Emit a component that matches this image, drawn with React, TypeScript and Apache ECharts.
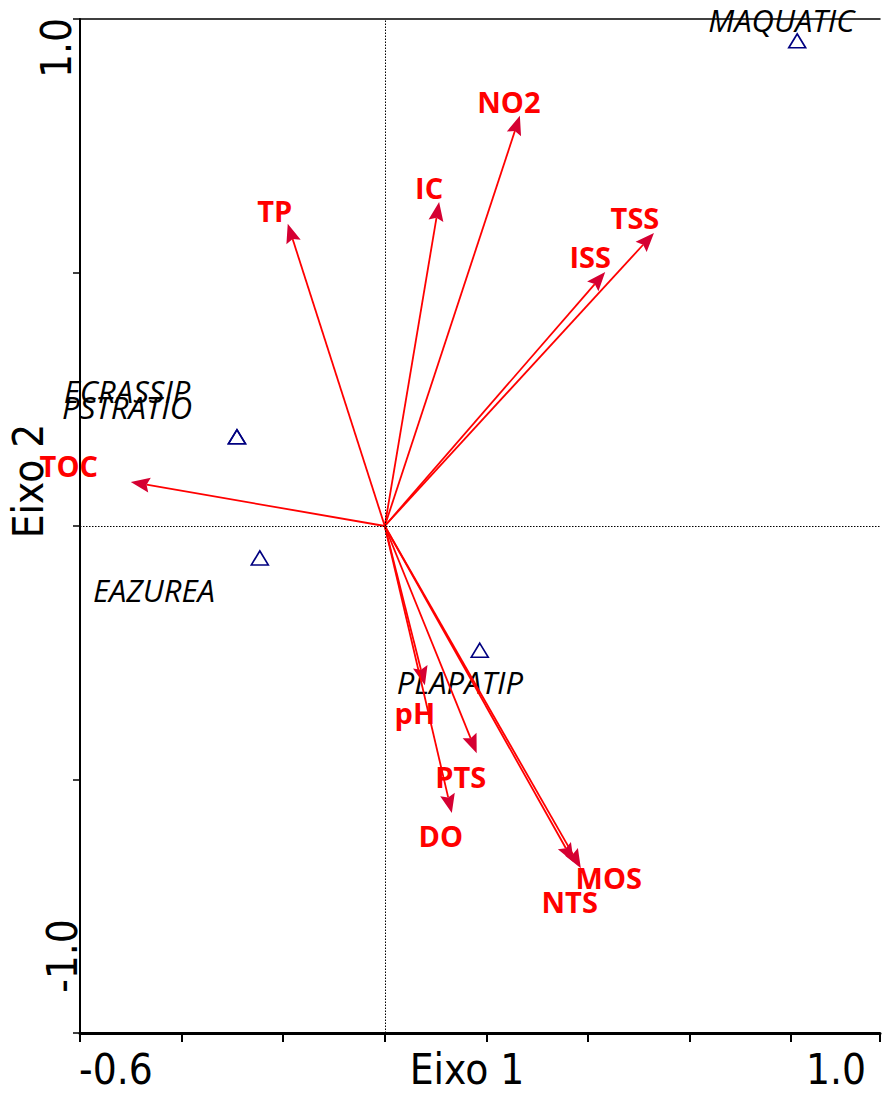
import React, { useEffect, useRef } from "react";
import * as echarts from "echarts";

// Environmental variables (biplot arrows)
const envNames = ["TOC", "TP", "IC", "NO2", "TSS", "ISS", "pH", "PTS", "DO", "MOS", "NTS"];
const envX = [-0.5, -0.191, 0.107, 0.266, 0.53, 0.434, 0.079, 0.181, 0.132, 0.386, 0.372];
const envY = [0.087, 0.596, 0.639, 0.809, 0.578, 0.501, -0.314, -0.448, -0.566, -0.675, -0.663];

// Species scores
const speciesNames = ["MAQUATIC", "ECRASSIP", "PSTRATIO", "EAZUREA", "PLAPATIP"];
const speciesX = [0.812, -0.291, -0.291, -0.246, 0.187];
const speciesY = [0.957, 0.176, 0.176, -0.063, -0.245];

// Axis ranges / labels
const xMin = -0.6;
const xMax = 0.975;
const xInterval = 0.2;
const yMin = -1.0;
const yMax = 1.0;
const yInterval = 0.5;
const xTickLabels = ["-0.6", "1.0"];
const yTickLabels = ["1.0", "-1.0"];
const xAxisTitle = "Eixo 1";
const yAxisTitle = "Eixo 2";

// Label layout (pixel offsets from the mark)
const envLabelOffsets: Record<string, [number, number]> = {
  TOC: [-62, -16],
  TP: [-13, -13],
  IC: [-10, -15],
  NO2: [-11, -14],
  TSS: [-19, -15],
  ISS: [-15, -15],
  pH: [-10, 27],
  PTS: [-16, 23],
  DO: [-11, 23],
  MOS: [28, 9],
  NTS: [-4, 39],
};
const speciesLabelOffsets: Record<string, [number, number]> = {
  MAQUATIC: [-15, -20],
  ECRASSIP: [-109, -45],
  PSTRATIO: [-109, -29],
  EAZUREA: [-105, 33],
  PLAPATIP: [-19, 33],
};

const AXIS_FONT = '"Liberation Sans Narrow", "DejaVu Sans Condensed", sans-serif';
const LABEL_FONT = '"Open Sans", "Noto Sans", sans-serif';
const SYMBOL_SIZE: [number, number] = [17, 14];

export default function App() {
  const ref = useRef<HTMLDivElement>(null);

  useEffect(() => {
    if (!ref.current) return;
    const chart = echarts.init(ref.current, null, { renderer: "svg" });

    const envData = envNames.map((n, i) => [envX[i], envY[i], i]);
    const speciesData = speciesNames.map((n, i) => ({
      name: n,
      value: [speciesX[i], speciesY[i]],
      label: {
        position: [SYMBOL_SIZE[0] / 2, SYMBOL_SIZE[1] / 2],
        offset: speciesLabelOffsets[n],
      },
    }));

    const axisCommon = {
      type: "value" as const,
      min: xMin,
      max: xMax,
      interval: xInterval,
      splitLine: { show: false },
      axisLabel: { show: false },
    };

    const option: any = {
      animation: false,
      backgroundColor: "#ffffff",
      grid: { left: 80, right: 2, top: 19, bottom: 60 },
      xAxis: [
        {
          ...axisCommon,
          position: "bottom",
          axisLine: { show: true, onZero: false, lineStyle: { color: "#000", width: 3 } },
          axisTick: { show: true, inside: false, length: 9, lineStyle: { color: "#000", width: 2 } },
        },
        {
          ...axisCommon,
          position: "top",
          axisLine: { show: true, onZero: false, lineStyle: { color: "#000", width: 1.5 } },
          axisTick: { show: false },
        },
      ],
      yAxis: {
        type: "value",
        min: yMin,
        max: yMax,
        interval: yInterval,
        splitLine: { show: false },
        axisLabel: { show: false },
        axisLine: { show: true, onZero: false, lineStyle: { color: "#000", width: 2 } },
        axisTick: { show: true, inside: false, length: 7, lineStyle: { color: "#000", width: 1.5 } },
      },
      series: [
        {
          type: "scatter",
          xAxisIndex: 0,
          symbol: "triangle",
          symbolSize: SYMBOL_SIZE,
          itemStyle: { color: "rgba(0,0,0,0)", borderColor: "#000080", borderWidth: 1.6, opacity: 1 },
          label: {
            show: true,
            formatter: "{b}",
            color: "#000000",
            opacity: 1,
            align: "center",
            verticalAlign: "middle",
            fontFamily: LABEL_FONT,
            fontStyle: "italic",
            fontWeight: "normal",
            fontSize: 31,
          },
          data: speciesData,
          markLine: {
            silent: true,
            symbol: ["none", "none"],
            label: { show: false },
            lineStyle: { color: "#000", type: [1.5, 1.5], width: 1, opacity: 1 },
            data: [{ xAxis: 0 }, { yAxis: 0 }],
          },
          z: 3,
        },
        {
          type: "custom",
          xAxisIndex: 0,
          data: envData,
          z: 4,
          renderItem: (params: any, api: any) => {
            const x = api.value(0);
            const y = api.value(1);
            const idx = api.value(2);
            const name = envNames[idx];
            const o = api.coord([0, 0]);
            const t = api.coord([x, y]);
            const dx = t[0] - o[0];
            const dy = t[1] - o[1];
            const L = Math.hypot(dx, dy) || 1;
            const ux = dx / L;
            const uy = dy / L;
            const headLen = 19;
            const headW = 7.5;
            const bx = t[0] - ux * headLen;
            const by = t[1] - uy * headLen;
            const px = -uy;
            const py = ux;
            const notchX = bx + ux * 3;
            const notchY = by + uy * 3;
            const off = envLabelOffsets[name] || [0, 0];
            return {
              type: "group",
              children: [
                {
                  type: "line",
                  shape: { x1: o[0], y1: o[1], x2: notchX, y2: notchY },
                  style: { stroke: "#FF0000", lineWidth: 1.8 },
                },
                {
                  type: "polygon",
                  shape: {
                    points: [
                      [t[0], t[1]],
                      [bx + px * headW, by + py * headW],
                      [notchX, notchY],
                      [bx - px * headW, by - py * headW],
                    ],
                  },
                  style: { fill: "#D50032" },
                },
                {
                  type: "text",
                  x: t[0] + off[0],
                  y: t[1] + off[1],
                  style: {
                    text: name,
                    fill: "#FF0000",
                    fontFamily: LABEL_FONT,
                    fontWeight: "bold",
                    fontSize: 29,
                    align: "center",
                    verticalAlign: "middle",
                  },
                },
              ],
            };
          },
        },
      ],
      graphic: [
        {
          type: "text",
          x: 79,
          y: 1069,
          style: { text: xTickLabels[0], fontFamily: AXIS_FONT, fontSize: 42, fill: "#000", align: "left", verticalAlign: "middle" },
        },
        {
          type: "text",
          x: 866,
          y: 1069,
          style: { text: xTickLabels[1], fontFamily: AXIS_FONT, fontSize: 42, fill: "#000", align: "right", verticalAlign: "middle" },
        },
        {
          type: "text",
          x: 467,
          y: 1069,
          style: { text: xAxisTitle, fontFamily: AXIS_FONT, fontSize: 42, fill: "#000", align: "center", verticalAlign: "middle" },
        },
        {
          type: "text",
          x: 56,
          y: 48,
          rotation: Math.PI / 2,
          style: { text: yTickLabels[0], fontFamily: AXIS_FONT, fontSize: 42, fill: "#000", align: "center", verticalAlign: "middle" },
        },
        {
          type: "text",
          x: 62,
          y: 956,
          rotation: Math.PI / 2,
          style: { text: yTickLabels[1], fontFamily: AXIS_FONT, fontSize: 42, fill: "#000", align: "center", verticalAlign: "middle" },
        },
        {
          type: "text",
          x: 28,
          y: 481,
          rotation: Math.PI / 2,
          style: { text: yAxisTitle, fontFamily: AXIS_FONT, fontSize: 42, fill: "#000", align: "center", verticalAlign: "middle" },
        },
      ],
    };

    chart.setOption(option);
    return () => chart.dispose();
  }, []);

  return (
    <div
      ref={ref}
      style={{ position: "absolute", left: 0, top: 0, width: 882, height: 1093, background: "#fff" }}
    />
  );
}
